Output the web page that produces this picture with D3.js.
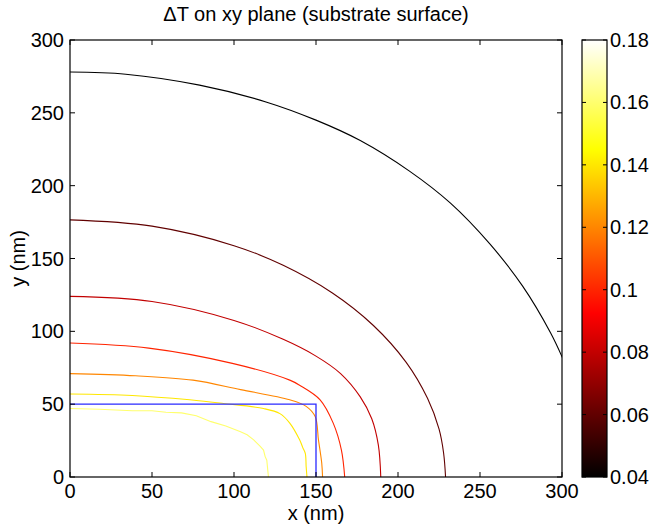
<!DOCTYPE html>
<html>
<head>
<meta charset="utf-8">
<script src="https://cdn.jsdelivr.net/npm/d3@7"></script>
<style>
  body { margin: 0; background: #fff; }
  text { font-family: "Liberation Sans", Arial, sans-serif; fill: #000; }
</style>
</head>
<body>
<script>
// tick values
const xTicks = [0, 50, 100, 150, 200, 250, 300];
const yTicks = [0, 50, 100, 150, 200, 250, 300];
const cbTicks = [0.04, 0.06, 0.08, 0.1, 0.12, 0.14, 0.16, 0.18];

// contour levels and the lines (x nm, y nm)
const levels = [0.04, 0.06, 0.08, 0.1, 0.12, 0.14, 0.16];
const line004 = [[0, 278], [34, 276.5], [79, 269], [119.5, 257.5], [150, 245], [177, 231], [207, 210], [232, 188], [256, 160], [276, 131], [293, 99], [301, 80]];
const line006 = [[0, 176.5], [50, 172.2], [100, 158.8], [130, 145.3], [160, 126.3], [185, 104], [205, 78.7], [218, 54], [225, 33], [227.8, 16.5], [229, 0]];
const line008 = [[0, 124], [50, 120.5], [100, 107.5], [130, 94.5], [150, 83], [165, 71], [177, 55], [184, 40], [188, 22], [189.5, 0]];
const line010 = [[0, 92], [48, 88.5], [99, 78], [134, 66.5], [140, 63], [152.5, 53], [160.5, 37], [165.5, 18.5], [167.5, 0]];
const line012 = [[0, 71], [40, 69.5], [75, 66.5], [104, 60], [134, 53], [144, 48.5], [149.5, 41.5], [151.5, 25.5], [153.5, 9.5], [154, 0]];
const line014 = [[0, 57], [38, 56], [73, 53], [93.5, 50.5], [118, 47], [128, 43.5], [134, 37], [140, 25.5], [142, 20], [143.5, 16], [144, 7], [144.5, 0]];
const line016 = [[0, 47], [18, 46.5], [38, 45.5], [50, 45.5], [58.5, 44.5], [68, 44], [77, 42], [86, 38], [95, 35], [104, 31], [108, 29], [112, 25.5], [116, 21], [118, 18.5], [119, 14], [120, 11.5], [121, 0]];
const contourLines = [line004, line006, line008, line010, line012, line014, line016];
// outline of the structure (blue)
const blockOutline = [[0, 50], [150, 50], [150, 0]];

// layout
const W = 653, H = 529;
const plot = { left: 70, right: 562, top: 40, bottom: 477 };
const cb = { left: 582, right: 607, top: 40, bottom: 477 };
const fs = "20px";

const svg = d3.select("body").append("svg")
  .attr("width", W).attr("height", H);

const xScale = d3.scaleLinear().domain([0, 300]).range([plot.left, plot.right]);
const yScale = d3.scaleLinear().domain([0, 300]).range([plot.bottom, plot.top]);

// matlab "hot" colormap
const hot = d3.scaleLinear()
  .domain([0, 3 / 8, 6 / 8, 1])
  .range(["#000000", "#ff0000", "#ffff00", "#ffffff"])
  .clamp(true);
const cScale = d3.scaleLinear().domain([0.04, 0.18]).range([0, 1]);
const colorOf = (v) => hot(cScale(v));

svg.append("clipPath").attr("id", "clip")
  .append("rect")
  .attr("x", plot.left).attr("y", plot.top)
  .attr("width", plot.right - plot.left).attr("height", plot.bottom - plot.top);

const smooth = d3.line()
  .x((d) => xScale(d[0]))
  .y((d) => yScale(d[1]))
  .curve(d3.curveCatmullRom.alpha(0.5));
const straight = d3.line()
  .x((d) => xScale(d[0]))
  .y((d) => yScale(d[1]));

const g = svg.append("g").attr("clip-path", "url(#clip)");
g.selectAll("path.contour")
  .data(contourLines)
  .enter()
  .append("path")
  .attr("class", "contour")
  .attr("d", (d, i) => (i === 6 ? straight(d) : smooth(d)))
  .attr("fill", "none")
  .attr("stroke", (d, i) => colorOf(levels[i]))
  .attr("stroke-width", 1.1);

g.append("path")
  .attr("d", straight(blockOutline))
  .attr("fill", "none")
  .attr("stroke", "#2a2aff")
  .attr("stroke-width", 1.3);

// axes box, ticks inside on all four sides
const tickLen = 5;
const axes = svg.append("g");
axes.append("rect")
  .attr("x", plot.left).attr("y", plot.top)
  .attr("width", plot.right - plot.left).attr("height", plot.bottom - plot.top)
  .attr("fill", "none").attr("stroke", "#000").attr("stroke-width", 1.2);

xTicks.forEach((t) => {
  const x = xScale(t);
  axes.append("line").attr("x1", x).attr("x2", x)
    .attr("y1", plot.bottom).attr("y2", plot.bottom - tickLen).attr("stroke", "#000");
  axes.append("line").attr("x1", x).attr("x2", x)
    .attr("y1", plot.top).attr("y2", plot.top + tickLen).attr("stroke", "#000");
  axes.append("text").attr("x", x).attr("y", plot.bottom + 21)
    .attr("text-anchor", "middle").attr("font-size", fs).text(t);
});
yTicks.forEach((t) => {
  const y = yScale(t);
  axes.append("line").attr("x1", plot.left).attr("x2", plot.left + tickLen)
    .attr("y1", y).attr("y2", y).attr("stroke", "#000");
  axes.append("line").attr("x1", plot.right).attr("x2", plot.right - tickLen)
    .attr("y1", y).attr("y2", y).attr("stroke", "#000");
  axes.append("text").attr("x", plot.left - 6).attr("y", y + 7)
    .attr("text-anchor", "end").attr("font-size", fs).text(t);
});

svg.append("text").attr("x", (plot.left + plot.right) / 2).attr("y", 21)
  .attr("text-anchor", "middle").attr("font-size", fs)
  .text("\u0394T on xy plane (substrate surface)");
svg.append("text").attr("x", (plot.left + plot.right) / 2).attr("y", 520)
  .attr("text-anchor", "middle").attr("font-size", fs).text("x (nm)");
svg.append("text")
  .attr("transform", "translate(25," + (plot.top + plot.bottom) / 2 + ") rotate(-90)")
  .attr("text-anchor", "middle").attr("font-size", fs).text("y (nm)");

// colorbar
const defs = svg.append("defs");
const grad = defs.append("linearGradient").attr("id", "hotgrad")
  .attr("x1", 0).attr("y1", 1).attr("x2", 0).attr("y2", 0);
d3.range(0, 1.0001, 0.0625).forEach((s) => {
  grad.append("stop").attr("offset", s).attr("stop-color", hot(s));
});
const cbY = d3.scaleLinear().domain([0.04, 0.18]).range([cb.bottom, cb.top]);
svg.append("rect")
  .attr("x", cb.left).attr("y", cb.top)
  .attr("width", cb.right - cb.left).attr("height", cb.bottom - cb.top)
  .attr("fill", "url(#hotgrad)").attr("stroke", "#000").attr("stroke-width", 1.2);
cbTicks.forEach((t) => {
  const y = cbY(t);
  svg.append("line").attr("x1", cb.left).attr("x2", cb.left + 4)
    .attr("y1", y).attr("y2", y).attr("stroke", "#000");
  svg.append("line").attr("x1", cb.right).attr("x2", cb.right - 4)
    .attr("y1", y).attr("y2", y).attr("stroke", "#000");
  svg.append("text").attr("x", cb.right + 3).attr("y", y + 7)
    .attr("font-size", fs).text(t);
});
</script>
</body>
</html>
